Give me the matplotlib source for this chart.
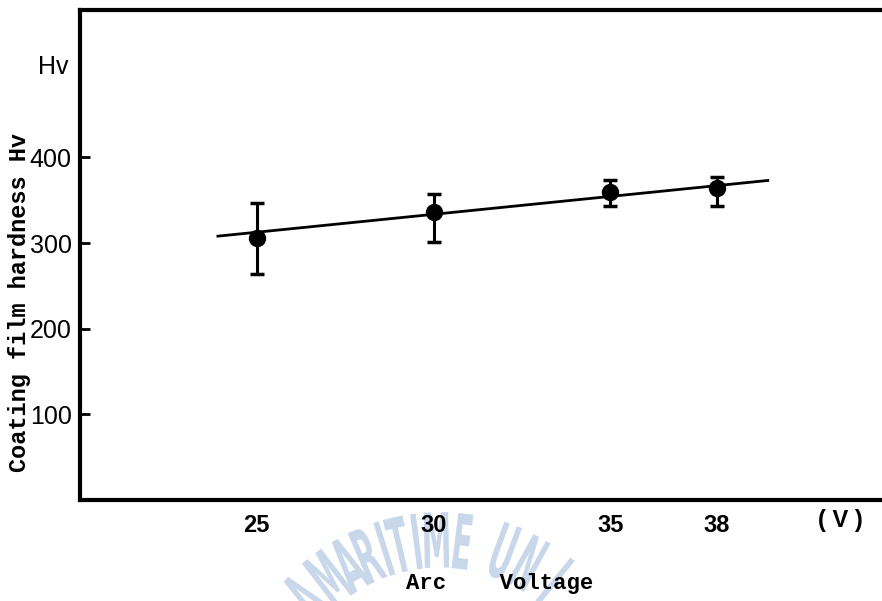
import numpy as np
import matplotlib
matplotlib.use("Agg")
import matplotlib.pyplot as plt
from matplotlib.textpath import TextPath
from matplotlib.patches import PathPatch
from matplotlib.font_manager import FontProperties
from matplotlib.transforms import Affine2D, IdentityTransform

# data
voltage = [25, 30, 35, 38]
hardness = [306, 336, 359, 364]
err_low = [264, 301, 343, 343]
err_high = [347, 357, 373, 377]

# fitted straight line (end points)
fit_x = [23.9, 39.45]
fit_y = [308, 373]

xtick_vals = [25, 30, 35, 38]
ytick_vals = [100, 200, 300, 400]

fig = plt.figure(figsize=(8.82, 6.01), dpi=100)

# faint watermark of the scan: tall narrow letters on an arc (pixel coords)
wm_letters = ["A", "M", "A", "R", "I", "T", "I", "M", "E", "U", "N", "I"]
wm_angles = [-47, -37.6, -30, -23.3, -17.7, -13, -7.4, -1.1, 7.1, 20.3, 29, 39]
fp = FontProperties(family="DejaVu Sans", weight="semibold")
cx, cy, rc = 440, 723, 183
for ch, ang in zip(wm_letters, wm_angles):
    tp = TextPath((0, 0), ch, size=1, prop=fp)
    ext = tp.get_extents()
    th = np.radians(ang)
    px = cx + rc * np.sin(th)
    py = cy - rc * np.cos(th)
    tr = (Affine2D().translate(-(ext.x0 + ext.x1) / 2, -(ext.y0 + ext.y1) / 2)
          .scale(30, 76).rotate_deg(-ang).translate(px, 601 - py))
    fig.add_artist(PathPatch(tr.transform_path(tp), transform=IdentityTransform(),
                             fc="#c8d7ea", ec="none", zorder=0))

ax = fig.add_axes([80 / 882, 1 - 500 / 601, 1 - 80 / 882, 490 / 601])
ax.patch.set_alpha(0)
ax.set_zorder(2)

yerr = [np.array(hardness) - np.array(err_low), np.array(err_high) - np.array(hardness)]
ax.plot(fit_x, fit_y, color="black", lw=2.0, zorder=2)
ax.errorbar(voltage, hardness, yerr=yerr, fmt="o", color="black", ms=11.5,
            elinewidth=2.2, capsize=5, capthick=2.5, zorder=3)

ax.set_xlim(20, 42.68)
ax.set_ylim(0, 572)

for s in ["left", "bottom", "top"]:
    ax.spines[s].set_linewidth(3)
ax.spines["right"].set_visible(False)

ax.set_xticks(xtick_vals)
ax.set_xticklabels([str(v) for v in xtick_vals], fontsize=17, fontweight="bold",
                   family="Liberation Sans")
ax.tick_params(axis="x", length=0, pad=10)
ax.set_yticks(ytick_vals)
ax.set_yticklabels([str(v) for v in ytick_vals], fontsize=18, family="Liberation Sans")
ax.tick_params(axis="y", direction="in", length=7, width=2, pad=6)

ax.text(41.5, -24, "( V )", fontsize=17, fontweight="bold", family="Liberation Sans",
        ha="center", va="center")

fig.text(53 / 882, 1 - 67 / 601, "Hv", fontsize=18, family="Liberation Sans",
         ha="center", va="center")
fig.text(20 / 882, 1 - 302 / 601, "Coating film hardness Hv", fontsize=17,
         family="Liberation Mono", fontweight="bold", rotation=90,
         ha="center", va="center")
fig.text(500 / 882, 1 - 583 / 601, "Arc    Voltage", fontsize=16,
         family="Liberation Mono", fontweight="bold", ha="center", va="center")

fig.savefig("out.png", dpi=100)
